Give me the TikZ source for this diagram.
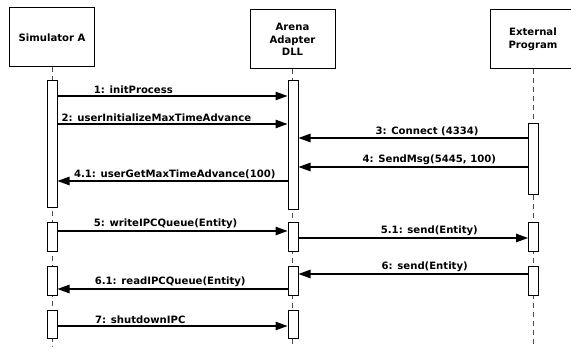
\documentclass[tikz,border=0pt]{standalone}
\usepackage{fontspec}
\setmainfont{DejaVu Sans}
\usepackage{tikz}
\usetikzlibrary{arrows.meta,positioning}

\begin{document}
\begin{tikzpicture}[x=1pt,y=-1pt,>={Triangle[length=12pt,width=8.5pt]},
  font=\fontsize{10.1}{12.5}\selectfont\bfseries,
  head/.style={draw,line width=1pt,fill=white,minimum width=85pt,minimum height=59pt,align=center,inner sep=0pt},
  act/.style={draw,line width=1pt,fill=white,minimum width=10pt,inner sep=0pt},
  life/.style={draw=black!70,line width=0.8pt,dash pattern=on 5pt off 4pt},
  msg/.style={->,line width=1.2pt},
  lbl/.style={above,inner sep=2pt}]
  \useasboundingbox (0,0) rectangle (571,347);

  % lifeline heads
  \node (SA) [head] at (52,37.5) {Simulator A};
  \node (AD) [head] at (292.5,39.5) {Arena\\Adapter\\DLL};
  \node (EP) [head] at (533,39.5) {External\\Program};

  % lifelines
  \draw[life] (SA.south) -- (SA.south |- 0,347);
  \draw[life] (AD.south) -- (AD.south |- 0,347);
  \draw[life] (EP.south) -- (EP.south |- 0,347);

  % activations
  \node (A1) [act,minimum height=127pt] at (52,144.5) {};
  \node (A2) [act,minimum height=29pt] at (52,237.5) {};
  \node (A3) [act,minimum height=29pt] at (52,281.5) {};
  \node (A4) [act,minimum height=28pt] at (52,325) {};

  \node (D1) [act,minimum height=129pt] at (293,145.5) {};
  \node (D2) [act,minimum height=29pt] at (293,237.5) {};
  \node (D3) [act,minimum height=29pt] at (293,281.5) {};
  \node (D4) [act,minimum height=28pt] at (293,325) {};

  \node (E1) [act,minimum height=71pt] at (533.5,159.5) {};
  \node (E2) [act,minimum height=29pt] at (533.5,237.5) {};
  \node (E3) [act,minimum height=29pt] at (533.5,281.5) {};

  % messages
  \draw[msg] (A1.east |- 0,96) -- node[lbl,pos=0.33] {1: initProcess} (D1.west |- 0,96);
  \draw[msg] (A1.east |- 0,124) -- node[lbl,pos=0.43] {2: userInitializeMaxTimeAdvance} (D1.west |- 0,124);
  \draw[msg] (E1.west |- 0,138) -- node[lbl,pos=0.44] {3: Connect (4334)} (D1.east |- 0,138);
  \draw[msg] (E1.west |- 0,167) -- node[lbl,pos=0.43] {4: SendMsg(5445, 100)} (D1.east |- 0,167);
  \draw[msg] (D1.west |- 0,181) -- node[lbl,pos=0.49] {4.1: userGetMaxTimeAdvance(100)} (A1.east |- 0,181);

  \draw[msg] (A2.east |- 0,231) -- node[lbl,pos=0.47] {5: writeIPCQueue(Entity)} (D2.west |- 0,231);
  \draw[msg] (D2.east |- 0,238) -- node[lbl,pos=0.57] {5.1: send(Entity)} (E2.west |- 0,238);
  \draw[msg] (E3.west |- 0,274) -- node[lbl,pos=0.45] {6: send(Entity)} (D3.east |- 0,274);
  \draw[msg] (D3.west |- 0,289) -- node[lbl,pos=0.51] {6.1: readIPCQueue(Entity)} (A3.east |- 0,289);
  \draw[msg] (A4.east |- 0,326) -- node[lbl,pos=0.36] {7: shutdownIPC} (D4.west |- 0,326);
\end{tikzpicture}
\end{document}
